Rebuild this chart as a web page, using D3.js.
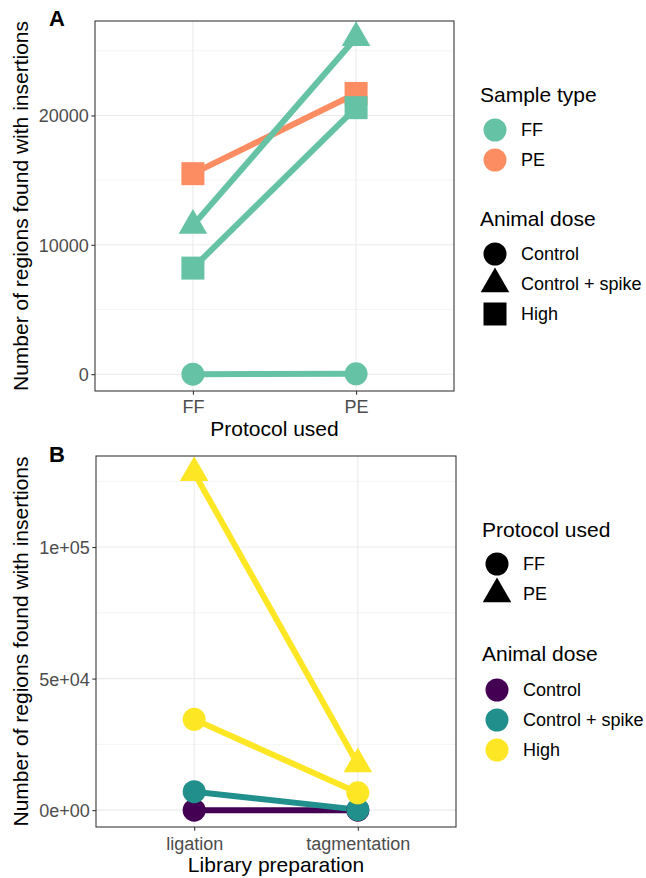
<!DOCTYPE html>
<html><head><meta charset="utf-8">
<script src="https://cdn.jsdelivr.net/npm/d3@7/dist/d3.min.js"></script>
<style>body{margin:0;background:#fff}svg{display:block}text{font-family:"Liberation Sans",Arial,Helvetica,sans-serif}</style>
</head><body>
<script>
// ---------- Data ----------
// Panel A
const protocolsA = ["FF", "PE"];
const sampleTypes = ["FF", "PE"];
const doseLevels = ["Control", "Control + spike", "High"];
const aSample = ["PE", "FF", "FF", "FF"];
const aDose = ["High", "Control", "Control + spike", "High"];
const aAtFF = [15500, 0, 11500, 8200];
const aAtPE = [21700, 30, 26000, 20600];
const aTicks = [0, 10000, 20000];
const aTickLabels = ["0", "10000", "20000"];
// Panel B
const libPreps = ["ligation", "tagmentation"];
const protocolLevels = ["FF", "PE"];
const bProtocol = ["FF", "FF", "FF", "PE"];
const bDose = ["Control", "Control + spike", "High", "High"];
const bAtLigation = [0, 7000, 34500, 128200];
const bAtTagmentation = [0, 200, 6600, 17500];
const bTicks = [0, 50000, 100000];
const bTickLabels = ["0e+00", "5e+04", "1e+05"];

// ---------- Styles ----------
const sampleColors = ["#66C2A5", "#FC8D62"];
const doseColors = ["#440154", "#21908C", "#FDE725"];
const W = 646, H = 878;
const svg = d3.select("body").append("svg").attr("width", W).attr("height", H);

function shapePath(kind, x, y) {
  if (kind === "circle") {
    const r = 11.5;
    return `M${x - r},${y}a${r},${r} 0 1,0 ${2 * r},0a${r},${r} 0 1,0 ${-2 * r},0Z`;
  } else if (kind === "triangle") {
    const r = 16.5, xc = r * Math.sqrt(3) / 2;
    return `M${x},${y - r}L${x + xc},${y + r / 2}L${x - xc},${y + r / 2}Z`;
  } else {
    const s = 11.5;
    return `M${x - s},${y - s}h${2 * s}v${2 * s}h${-2 * s}Z`;
  }
}

function panel(opts) {
  const {x0, x1, y0, y1, cats, ticks, tickLabels, values, tag, tagY, xTitle, xTitleY, tickLabY} = opts;
  const g = svg.append("g");
  const allVals = values.flat();
  const mn = d3.min(allVals), mx = d3.max(allVals), pad = (mx - mn) * 0.05;
  const y = d3.scaleLinear().domain([mn - pad, mx + pad]).range([y1, y0]);
  const x = d3.scalePoint().domain(cats).range([x0, x1]).padding(0.6);
  const minor = [];
  for (let i = 0; i < ticks.length - 1; i++) minor.push((ticks[i] + ticks[i + 1]) / 2);
  const step = ticks[1] - ticks[0];
  minor.push(ticks[ticks.length - 1] + step / 2);
  g.selectAll(".minor").data(minor.filter(v => y(v) > y0 && y(v) < y1)).enter().append("line")
    .attr("x1", x0).attr("x2", x1).attr("y1", d => y(d)).attr("y2", d => y(d))
    .attr("stroke", "#EBEBEB").attr("stroke-width", 0.55);
  g.selectAll(".majy").data(ticks).enter().append("line")
    .attr("x1", x0).attr("x2", x1).attr("y1", d => y(d)).attr("y2", d => y(d))
    .attr("stroke", "#EBEBEB").attr("stroke-width", 1.1);
  g.selectAll(".majx").data(cats).enter().append("line")
    .attr("x1", d => x(d)).attr("x2", d => x(d)).attr("y1", y0).attr("y2", y1)
    .attr("stroke", "#EBEBEB").attr("stroke-width", 1.1);
  const yAxis = d3.axisLeft(y).tickValues(ticks).tickFormat((d, i) => tickLabels[i]).tickSize(3.7).tickPadding(2.5);
  const ya = g.append("g").attr("transform", `translate(${x0},0)`).call(yAxis);
  ya.select(".domain").remove();
  ya.selectAll("line").attr("stroke", "#333333").attr("stroke-width", 1.07);
  ya.selectAll("text").attr("fill", "#4D4D4D").style("font-size", "18px").attr("dy", "0.36em")
    .style("font-family", '"Liberation Sans",Arial,sans-serif');
  const xAxis = d3.axisBottom(x).tickSize(3.7).tickPadding(2.5);
  const xa = g.append("g").attr("transform", `translate(0,${y1})`).call(xAxis);
  xa.select(".domain").remove();
  xa.selectAll("line").attr("stroke", "#333333").attr("stroke-width", 1.07);
  xa.selectAll("text").attr("fill", "#4D4D4D").style("font-size", "18px").attr("dy", null)
    .attr("y", tickLabY - y1).style("font-family", '"Liberation Sans",Arial,sans-serif');
  g.append("text").attr("x", (x0 + x1) / 2).attr("y", xTitleY).attr("text-anchor", "middle")
    .style("font-size", "21px").attr("fill", "#000").text(xTitle);
  g.append("text").attr("transform", `translate(28,${(y0 + y1) / 2}) rotate(-90)`)
    .attr("text-anchor", "middle").style("font-size", "21px").attr("fill", "#000")
    .text("Number of regions found with insertions");
  g.append("text").attr("x", 49).attr("y", tagY).style("font-size", "22px").attr("font-weight", "bold").text(tag);
  const cid = "clip" + tag;
  svg.append("clipPath").attr("id", cid).append("rect").attr("x", x0).attr("y", y0).attr("width", x1 - x0).attr("height", y1 - y0);
  const data = g.append("g").attr("clip-path", `url(#${cid})`);
  return {g, data, x, y, border: () => g.append("rect").attr("x", x0).attr("y", y0).attr("width", x1 - x0).attr("height", y1 - y0)
    .attr("fill", "none").attr("stroke", "#333333").attr("stroke-width", 1.07)};
}

const A = panel({x0: 95, x1: 454, y0: 21, y1: 391, cats: protocolsA, ticks: aTicks, tickLabels: aTickLabels,
  values: [aAtFF, aAtPE], tag: "A", tagY: 26, xTitle: "Protocol used", xTitleY: 436, tickLabY: 413});
const doseShape = {"Control": "circle", "Control + spike": "triangle", "High": "square"};
const line = d3.line();
aSample.forEach((s, i) => {
  const col = sampleColors[sampleTypes.indexOf(s)];
  A.data.append("path").attr("d", line([[A.x("FF"), A.y(aAtFF[i])], [A.x("PE"), A.y(aAtPE[i])]]))
    .attr("stroke", col).attr("stroke-width", 6).attr("fill", "none");
});
aSample.forEach((s, i) => {
  const col = sampleColors[sampleTypes.indexOf(s)];
  [["FF", aAtFF[i]], ["PE", aAtPE[i]]].forEach(([p, v]) => {
    A.data.append("path").attr("d", shapePath(doseShape[aDose[i]], A.x(p), A.y(v))).attr("fill", col);
  });
});
A.border();

const B = panel({x0: 96, x1: 456, y0: 456, y1: 827, cats: libPreps, ticks: bTicks, tickLabels: bTickLabels,
  values: [bAtLigation, bAtTagmentation], tag: "B", tagY: 462, xTitle: "Library preparation", xTitleY: 872, tickLabY: 849.5});
const protoShape = {"FF": "circle", "PE": "triangle"};
bDose.forEach((d, i) => {
  const col = doseColors[doseLevels.indexOf(d)];
  B.data.append("path").attr("d", line([[B.x("ligation"), B.y(bAtLigation[i])], [B.x("tagmentation"), B.y(bAtTagmentation[i])]]))
    .attr("stroke", col).attr("stroke-width", 6).attr("fill", "none");
});
bDose.forEach((d, i) => {
  const col = doseColors[doseLevels.indexOf(d)];
  [["ligation", bAtLigation[i]], ["tagmentation", bAtTagmentation[i]]].forEach(([p, v]) => {
    B.data.append("path").attr("d", shapePath(protoShape[bProtocol[i]], B.x(p), B.y(v))).attr("fill", col);
  });
});
B.border();

function legend(x, titleY, title, items) {
  const g = svg.append("g");
  g.append("text").attr("x", x).attr("y", titleY).style("font-size", "21px").text(title);
  items.forEach(it => {
    g.append("path").attr("d", shapePath(it.shape, x + 15, it.y)).attr("fill", it.color);
    g.append("text").attr("x", x + 41).attr("y", it.y).attr("dy", "0.36em").style("font-size", "18px").text(it.label);
  });
}
legend(480, 102, "Sample type", sampleTypes.map((s, i) => ({shape: "circle", color: sampleColors[i], label: s, y: 130 + i * 30})));
legend(480, 226, "Animal dose", doseLevels.map((s, i) => ({shape: doseShape[s], color: "#000", label: s, y: 254 + i * 30})));
legend(482, 537, "Protocol used", protocolLevels.map((s, i) => ({shape: protoShape[s], color: "#000", label: s, y: 564 + i * 30})));
legend(482, 661, "Animal dose", doseLevels.map((s, i) => ({shape: "circle", color: doseColors[i], label: s, y: 690 + i * 30})));
</script>
</body></html>
